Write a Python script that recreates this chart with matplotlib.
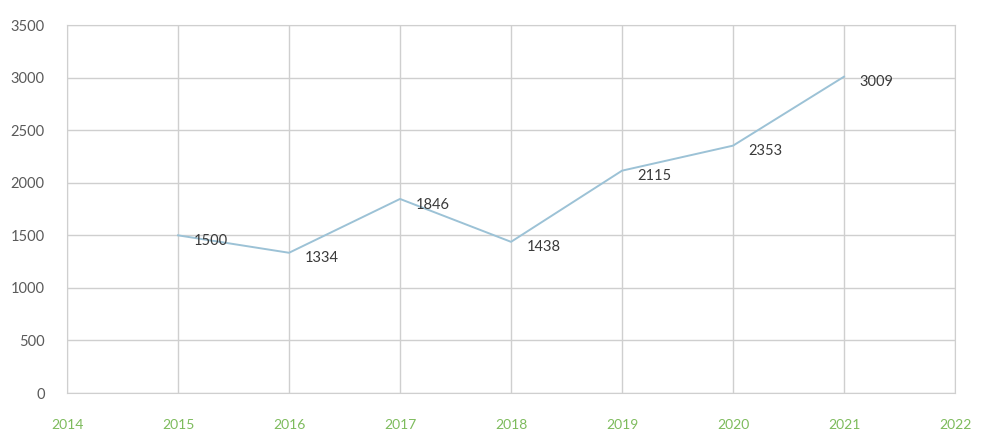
import matplotlib.pyplot as plt

years = [2015, 2016, 2017, 2018, 2019, 2020, 2021]
values = [1500, 1334, 1846, 1438, 2115, 2353, 3009]
x_ticks = list(range(2014, 2023))
y_ticks = list(range(0, 3501, 500))

fig = plt.figure(figsize=(10.02, 4.46), dpi=100)
ax = fig.add_axes([0.0669, 0.1188, 0.8862, 0.825])

ax.plot(years, values, color="#9cc2d6", linewidth=1.4, zorder=3)

for x, v in zip(years, values):
    ax.annotate(str(v), (x, v), xytext=(11, -4), textcoords="offset points",
                fontsize=10.5, color="#3a3a3a", va="center", ha="left",
                family="Lato")

ax.set_xlim(2014, 2022)
ax.set_ylim(0, 3500)
ax.set_xticks(x_ticks)
ax.set_yticks(y_ticks)
ax.set_xticklabels([str(t) for t in x_ticks], color="#7dbb5c", fontsize=10, family="Lato")
ax.set_yticklabels([str(t) for t in y_ticks], color="#5a5a5a", fontsize=10.5, family="Lato")
ax.tick_params(length=0)
ax.tick_params(axis="x", pad=19)
ax.tick_params(axis="y", pad=16)

ax.grid(True, color="#cfcfcf", linewidth=1)
ax.set_axisbelow(True)
for s in ax.spines.values():
    s.set_color("#cfcfcf")

fig.savefig("out.png", dpi=100, facecolor="white")
